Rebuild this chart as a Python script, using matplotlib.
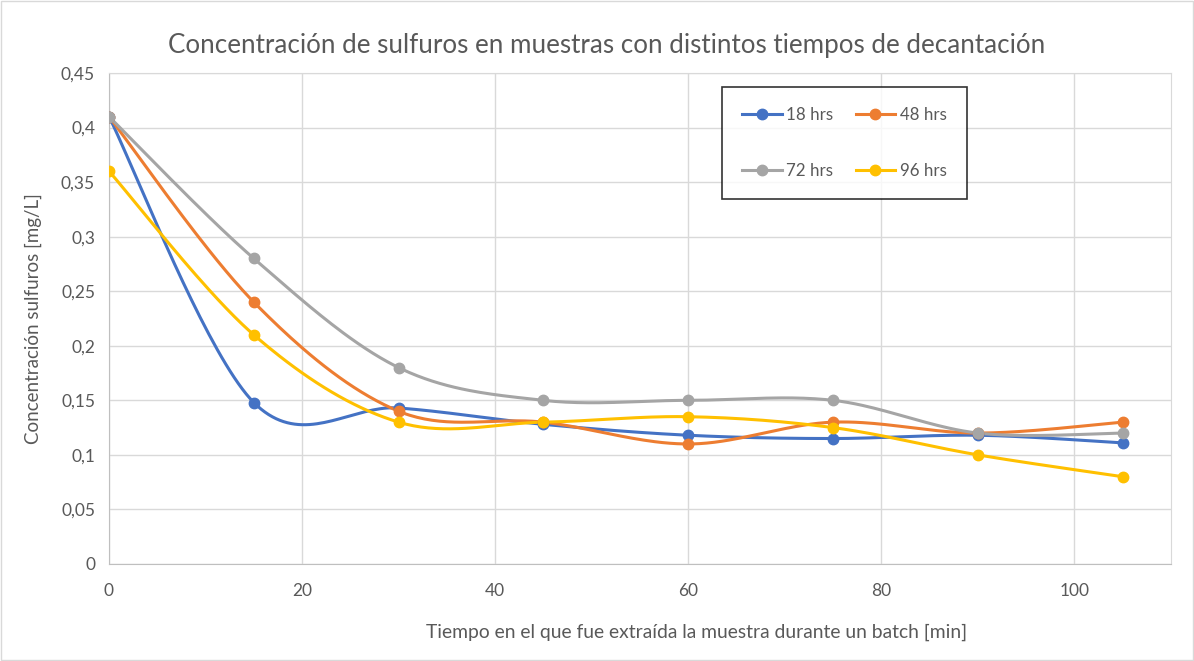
import numpy as np
import matplotlib
matplotlib.use('Agg')
import matplotlib.pyplot as plt
from matplotlib.ticker import MultipleLocator, FuncFormatter
from matplotlib.patches import Rectangle

plt.rcParams['font.family'] = ['Lato', 'DejaVu Sans']

# Data
tiempos = [0, 15, 30, 45, 60, 75, 90, 105]
c_18 = [0.41, 0.148, 0.143, 0.128, 0.118, 0.115, 0.118, 0.111]
c_48 = [0.41, 0.24, 0.14, 0.13, 0.11, 0.13, 0.12, 0.13]
c_72 = [0.41, 0.28, 0.18, 0.15, 0.15, 0.15, 0.12, 0.12]
c_96 = [0.36, 0.21, 0.13, 0.13, 0.135, 0.125, 0.10, 0.08]
etiquetas = ['18 hrs', '48 hrs', '72 hrs', '96 hrs']
colores = ['#4472C4', '#ED7D31', '#A5A5A5', '#FFC000']

text_color = '#595959'
grid_color = '#D9D9D9'


def smooth(x, y, n=40):
    """Excel-like smoothed line (Catmull-Rom via cubic Bezier segments)."""
    p = np.column_stack([x, y]).astype(float)
    p = np.vstack([p[0], p, p[-1]])
    out = []
    t = np.linspace(0, 1, n)[:, None]
    for i in range(1, len(p) - 2):
        p0, p1, p2, p3 = p[i - 1], p[i], p[i + 1], p[i + 2]
        b1 = p1 + (p2 - p0) / 6
        b2 = p2 - (p3 - p1) / 6
        seg = ((1 - t) ** 3) * p1 + 3 * ((1 - t) ** 2) * t * b1 + 3 * (1 - t) * t ** 2 * b2 + t ** 3 * p2
        out.append(seg if i == 1 else seg[1:])
    out = np.vstack(out)
    return out[:, 0], out[:, 1]


fig = plt.figure(figsize=(11.94, 6.61), dpi=100)
ax = fig.add_axes([109 / 1194, 1 - 564 / 661, (1171 - 109) / 1194, (564 - 73) / 661])

handles = []
for serie, lab, col in zip([c_18, c_48, c_72, c_96], etiquetas, colores):
    sx, sy = smooth(tiempos, serie)
    ax.plot(sx, sy, color=col, linewidth=2.2, solid_capstyle='round', zorder=3)
    ax.plot(tiempos, serie, linestyle='none', marker='o', markersize=7.5, color=col, zorder=4)
    h, = ax.plot([], [], color=col, linewidth=2.2, marker='o', markersize=7.5, label=lab)
    handles.append(h)

ax.set_xlim(0, 110)
ax.set_ylim(0, 0.45)
ax.xaxis.set_major_locator(MultipleLocator(20))
ax.yaxis.set_major_locator(MultipleLocator(0.05))
ax.yaxis.set_major_formatter(FuncFormatter(lambda v, p: ('%g' % round(v, 2)).replace('.', ',')))
ax.grid(True, color=grid_color, linewidth=1.0, zorder=0)
ax.set_axisbelow(True)
for s in ['top', 'right']:
    ax.spines[s].set_color(grid_color)
for s in ['left', 'bottom']:
    ax.spines[s].set_color('#BFBFBF')
ax.tick_params(length=0, labelsize=12.5, colors=text_color, pad=10)
ax.tick_params(axis='x', pad=14)

fig.text(697 / 1194, 1 - 632 / 661,
         'Tiempo en el que fue extraída la muestra durante un batch [min]',
         ha='center', va='center', fontsize=13.9, color=text_color)
ax.set_ylabel('Concentración sulfuros [mg/L]', fontsize=13.5, color=text_color, labelpad=14)
fig.text((171 + 1042) / 2 / 1194, 1 - 45 / 661,
         'Concentración de sulfuros en muestras con distintos tiempos de decantación',
         ha='center', va='center', fontsize=18.7, color=text_color)

# row-major order like the original legend
orden = [handles[0], handles[2], handles[1], handles[3]]
leg = ax.legend(handles=orden, loc='upper left',
                bbox_to_anchor=((722 - 109) / 1062, 1 - (87 - 73) / 491),
                ncol=2, fontsize=12.2, frameon=True, fancybox=False, labelspacing=2.35,
                columnspacing=1.3, handlelength=2.35, handletextpad=0.25, borderpad=1.2,
                borderaxespad=0, labelcolor=text_color)
leg.get_frame().set_edgecolor('black')
leg.get_frame().set_linewidth(1.2)

fig.patches.append(Rectangle((0.001, 0.001), 0.998, 0.997, transform=fig.transFigure,
                             fill=False, edgecolor='#D9D9D9', linewidth=1))

fig.savefig('out.png', dpi=100)
